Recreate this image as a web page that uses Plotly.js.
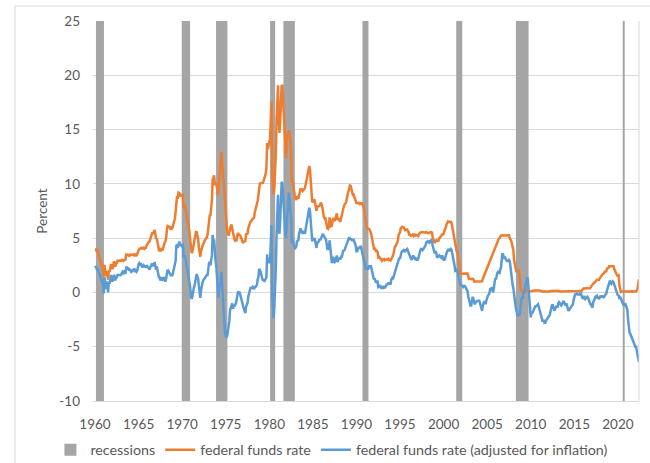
<!DOCTYPE html>
<html>
<head>
<meta charset="utf-8">
<script src="https://cdn.plot.ly/plotly-3.0.1.min.js"></script>
<style>
  html, body { margin: 0; padding: 0; background: #ffffff; }
  #chart { width: 650px; height: 463px; }
</style>
</head>
<body>
<div id="chart"></div>
<script>
// ---------------- DATA ----------------
// Monthly, starting January 1960
const startYear = 1960;

// Effective federal funds rate (%)
const fedFunds = [
  3.99, 3.97, 3.84, 3.92, 3.85, 3.32, 3.23, 2.98, 2.60, 2.47, 2.44, 1.98,
  1.45, 2.54, 2.02, 1.49, 1.98, 1.73, 1.17, 2.00, 1.88, 2.26, 2.61, 2.33,
  2.15, 2.37, 2.85, 2.78, 2.36, 2.68, 2.71, 2.93, 2.90, 2.90, 2.94, 2.93,
  2.92, 3.00, 2.98, 2.90, 3.00, 2.99, 3.02, 3.49, 3.48, 3.50, 3.48, 3.38,
  3.48, 3.48, 3.43, 3.47, 3.50, 3.50, 3.42, 3.50, 3.45, 3.36, 3.52, 3.85,
  3.90, 3.98, 4.04, 4.09, 4.10, 4.04, 4.09, 4.12, 4.01, 4.08, 4.10, 4.32,
  4.42, 4.60, 4.65, 4.67, 4.90, 5.17, 5.30, 5.53, 5.40, 5.53, 5.76, 5.40,
  4.94, 5.00, 4.53, 4.05, 3.94, 3.98, 3.79, 3.90, 3.99, 3.88, 4.13, 4.51,
  4.61, 4.71, 5.05, 5.76, 6.11, 6.07, 6.02, 6.03, 5.78, 5.91, 5.82, 6.02,
  6.30, 6.61, 6.79, 7.41, 8.67, 8.90, 8.61, 9.19, 9.15, 9.00, 8.85, 8.97,
  8.98, 8.98, 7.76, 8.10, 7.95, 7.61, 7.21, 6.61, 6.29, 6.20, 5.60, 4.90,
  4.14, 3.72, 3.71, 4.16, 4.63, 4.91, 5.31, 5.56, 5.55, 5.20, 4.91, 4.14,
  3.50, 3.29, 3.83, 4.17, 4.27, 4.46, 4.55, 4.80, 4.87, 5.04, 5.06, 5.33,
  5.94, 6.58, 7.09, 7.12, 7.84, 8.49, 10.40, 10.50, 10.78, 10.01, 10.03, 9.95,
  9.65, 8.97, 9.35, 10.51, 11.31, 11.93, 12.92, 12.01, 11.34, 10.06, 9.45, 8.53,
  7.13, 6.24, 5.54, 5.49, 5.22, 5.55, 6.10, 6.14, 6.24, 5.82, 5.22, 5.20,
  4.87, 4.77, 4.84, 4.82, 5.29, 5.48, 5.31, 5.29, 5.25, 5.02, 4.95, 4.65,
  4.61, 4.68, 4.69, 4.73, 5.35, 5.39, 5.42, 5.90, 6.14, 6.47, 6.51, 6.56,
  6.70, 6.78, 6.79, 6.89, 7.36, 7.60, 7.81, 8.04, 8.45, 8.96, 9.76, 10.03,
  10.07, 10.06, 10.09, 10.01, 10.24, 10.29, 10.47, 10.94, 11.43, 13.77, 13.18, 13.78,
  13.82, 14.13, 17.19, 17.61, 10.98, 9.47, 9.03, 9.61, 10.87, 12.81, 15.85, 18.90,
  19.08, 15.93, 14.70, 15.72, 18.52, 19.10, 19.04, 17.82, 15.87, 15.08, 13.31, 12.37,
  13.22, 14.78, 14.68, 14.94, 14.45, 14.15, 12.59, 10.12, 10.31, 9.71, 9.20, 8.95,
  8.68, 8.51, 8.77, 8.80, 8.63, 8.98, 9.37, 9.56, 9.45, 9.48, 9.34, 9.47,
  9.56, 9.59, 9.91, 10.29, 10.32, 11.06, 11.23, 11.64, 11.30, 9.99, 9.43, 8.38,
  8.35, 8.50, 8.58, 8.27, 7.97, 7.53, 7.88, 7.90, 7.92, 7.99, 8.05, 8.27,
  8.14, 7.86, 7.48, 6.99, 6.85, 6.92, 6.56, 6.17, 5.89, 5.85, 6.04, 6.91,
  6.43, 6.10, 6.13, 6.37, 6.85, 6.73, 6.58, 6.73, 7.22, 7.29, 6.69, 6.77,
  6.83, 6.58, 6.58, 6.87, 7.09, 7.51, 7.75, 8.01, 8.19, 8.30, 8.35, 8.76,
  9.12, 9.36, 9.85, 9.84, 9.81, 9.53, 9.24, 8.99, 9.02, 8.84, 8.55, 8.45,
  8.23, 8.24, 8.28, 8.26, 8.18, 8.29, 8.15, 8.13, 8.20, 8.11, 7.81, 7.31,
  6.91, 6.25, 6.12, 5.91, 5.78, 5.90, 5.82, 5.66, 5.45, 5.21, 4.81, 4.43,
  4.03, 4.06, 3.98, 3.73, 3.82, 3.76, 3.25, 3.30, 3.22, 3.10, 3.09, 2.92,
  3.02, 3.03, 3.07, 2.96, 3.00, 3.04, 3.06, 3.03, 3.09, 2.99, 3.02, 2.96,
  3.05, 3.25, 3.34, 3.56, 4.01, 4.25, 4.26, 4.47, 4.73, 4.76, 5.29, 5.45,
  5.53, 5.92, 5.98, 6.05, 6.01, 6.00, 5.85, 5.74, 5.80, 5.76, 5.80, 5.60,
  5.56, 5.22, 5.31, 5.22, 5.24, 5.27, 5.40, 5.22, 5.30, 5.24, 5.31, 5.29,
  5.25, 5.19, 5.39, 5.51, 5.50, 5.56, 5.52, 5.54, 5.54, 5.50, 5.52, 5.50,
  5.56, 5.51, 5.49, 5.45, 5.49, 5.56, 5.54, 5.55, 5.51, 5.07, 4.83, 4.68,
  4.63, 4.76, 4.81, 4.74, 4.74, 4.76, 4.99, 5.07, 5.22, 5.20, 5.42, 5.30,
  5.45, 5.73, 5.85, 6.02, 6.27, 6.53, 6.54, 6.50, 6.52, 6.51, 6.51, 6.40,
  5.98, 5.49, 5.31, 4.80, 4.21, 3.97, 3.77, 3.65, 3.07, 2.49, 2.09, 1.82,
  1.73, 1.74, 1.73, 1.75, 1.75, 1.75, 1.73, 1.74, 1.75, 1.75, 1.34, 1.24,
  1.24, 1.26, 1.25, 1.26, 1.26, 1.22, 1.01, 1.03, 1.01, 1.01, 1.00, 0.98,
  1.00, 1.01, 1.00, 1.00, 1.00, 1.03, 1.26, 1.43, 1.61, 1.76, 1.93, 2.16,
  2.28, 2.50, 2.63, 2.79, 3.00, 3.04, 3.26, 3.50, 3.62, 3.78, 4.00, 4.16,
  4.29, 4.49, 4.59, 4.79, 4.94, 4.99, 5.24, 5.25, 5.25, 5.25, 5.25, 5.24,
  5.25, 5.26, 5.26, 5.25, 5.25, 5.25, 5.26, 5.02, 4.94, 4.76, 4.49, 4.24,
  3.94, 2.98, 2.61, 2.28, 1.98, 2.00, 2.01, 2.00, 1.81, 0.97, 0.39, 0.16,
  0.15, 0.22, 0.18, 0.15, 0.18, 0.21, 0.16, 0.16, 0.15, 0.12, 0.12, 0.12,
  0.11, 0.13, 0.16, 0.20, 0.20, 0.18, 0.18, 0.19, 0.19, 0.19, 0.19, 0.18,
  0.17, 0.16, 0.14, 0.10, 0.09, 0.09, 0.07, 0.10, 0.08, 0.07, 0.08, 0.07,
  0.08, 0.10, 0.13, 0.14, 0.16, 0.16, 0.16, 0.13, 0.14, 0.16, 0.16, 0.16,
  0.14, 0.15, 0.14, 0.15, 0.11, 0.09, 0.09, 0.08, 0.08, 0.09, 0.08, 0.09,
  0.07, 0.07, 0.08, 0.09, 0.09, 0.10, 0.09, 0.09, 0.09, 0.09, 0.09, 0.12,
  0.11, 0.11, 0.11, 0.12, 0.12, 0.13, 0.13, 0.14, 0.14, 0.12, 0.12, 0.24,
  0.34, 0.38, 0.36, 0.37, 0.37, 0.38, 0.39, 0.40, 0.40, 0.40, 0.41, 0.54,
  0.65, 0.66, 0.79, 0.90, 0.91, 1.04, 1.15, 1.16, 1.15, 1.15, 1.16, 1.30,
  1.41, 1.42, 1.51, 1.69, 1.70, 1.82, 1.91, 1.91, 1.95, 2.19, 2.20, 2.27,
  2.40, 2.40, 2.41, 2.42, 2.39, 2.38, 2.40, 2.13, 2.04, 1.83, 1.55, 1.55,
  1.55, 1.58, 0.65, 0.05, 0.05, 0.08, 0.09, 0.10, 0.09, 0.09, 0.09, 0.09,
  0.09, 0.08, 0.07, 0.07, 0.06, 0.08, 0.10, 0.09, 0.08, 0.08, 0.08, 0.08,
  0.08, 0.08, 0.20, 0.33, 0.77, 1.21
];

// Federal funds rate adjusted for inflation (%)
const realRate = [
  2.3, 2.4, 2.2, 2.1, 2.2, 1.7, 1.7, 1.6, 1.3, 1.0, 1.0, 0.7,
  -0.1, 1.4, 1.0, 0.3, 1.0, 0.7, 0.0, 1.0, 0.8, 1.3, 1.6, 1.2,
  1.0, 1.2, 1.6, 1.5, 1.1, 1.4, 1.4, 1.6, 1.6, 1.6, 1.6, 1.6,
  1.6, 1.8, 1.9, 1.8, 1.9, 1.8, 1.8, 2.3, 2.3, 2.2, 2.2, 2.0,
  2.1, 2.0, 1.9, 2.0, 2.1, 2.1, 2.0, 2.1, 2.0, 1.9, 2.0, 2.5,
  2.6, 2.7, 2.6, 2.7, 2.5, 2.3, 2.4, 2.5, 2.4, 2.4, 2.3, 2.5,
  2.4, 2.3, 2.2, 2.1, 2.3, 2.6, 2.6, 2.6, 2.4, 2.4, 2.8, 2.4,
  2.1, 2.4, 2.0, 1.7, 1.4, 1.4, 1.1, 1.3, 1.3, 1.2, 1.3, 1.4,
  1.1, 1.0, 1.3, 1.9, 2.1, 2.0, 1.8, 1.8, 1.6, 1.6, 1.5, 1.7,
  2.0, 2.3, 2.3, 2.9, 4.3, 4.4, 4.1, 4.7, 4.7, 4.4, 4.3, 4.3,
  4.4, 4.4, 3.2, 3.4, 3.4, 3.0, 2.6, 2.1, 1.8, 1.7, 1.2, 0.5,
  -0.3, -0.6, -0.4, 0.2, 0.4, 0.6, 1.1, 1.5, 1.7, 1.4, 1.3, 0.6,
  -0.3, -0.5, 0.2, 0.8, 0.9, 1.1, 1.2, 1.4, 1.5, 1.5, 1.6, 1.6,
  2.3, 2.7, 2.8, 2.5, 3.0, 3.4, 5.3, 4.6, 4.9, 3.5, 2.9, 2.4,
  1.4, -0.1, -0.5, 0.4, 0.7, 1.0, 1.9, 0.6, -0.5, -2.0, -2.8, -3.7,
  -4.0, -4.1, -4.0, -3.6, -3.4, -2.6, -1.6, -1.3, -1.0, -1.0, -1.5, -1.2,
  -1.3, -1.2, -1.0, -0.7, -0.1, 0.1, 0.0, 0.0, -0.2, -0.4, -0.6, -1.0,
  -1.3, -1.5, -1.7, -1.9, -1.3, -1.1, -1.0, -0.4, 0.0, 0.3, 0.4, 0.4,
  0.4, 0.5, 0.4, 0.3, 0.5, 0.5, 0.6, 0.7, 1.2, 1.4, 2.1, 2.1,
  1.9, 1.6, 1.3, 1.1, 1.2, 1.0, 1.1, 1.2, 1.4, 3.5, 2.7, 3.1,
  2.7, 2.8, 5.7, 6.2, -0.4, -2.0, -2.4, -1.2, 0.3, 2.2, 5.3, 8.4,
  9.0, 6.0, 5.4, 6.6, 9.5, 10.2, 10.0, 9.1, 7.3, 6.7, 5.3, 5.0,
  6.2, 8.1, 8.4, 9.2, 8.4, 8.2, 6.9, 4.5, 4.9, 4.5, 4.1, 4.0,
  4.1, 4.2, 4.7, 4.8, 4.8, 5.4, 5.8, 5.9, 5.7, 5.6, 5.4, 5.6,
  5.6, 5.4, 5.8, 6.3, 6.4, 7.1, 7.3, 7.8, 7.5, 6.3, 5.8, 4.8,
  4.8, 5.0, 5.0, 4.8, 4.5, 4.1, 4.6, 4.6, 4.7, 4.9, 4.8, 5.0,
  5.1, 5.4, 5.4, 5.2, 5.0, 5.0, 4.9, 4.4, 4.0, 4.0, 4.0, 4.8,
  3.9, 3.1, 2.8, 2.8, 3.3, 2.9, 2.8, 2.9, 3.3, 3.4, 2.8, 3.0,
  3.2, 3.1, 3.1, 3.3, 3.3, 3.6, 3.9, 3.8, 4.0, 4.1, 4.2, 4.5,
  4.6, 4.8, 5.1, 4.9, 4.9, 4.9, 4.8, 4.8, 4.9, 4.7, 4.5, 4.3,
  3.8, 3.8, 4.0, 4.2, 4.1, 4.1, 4.3, 4.0, 3.7, 3.4, 3.0, 2.5,
  2.4, 2.1, 2.3, 2.2, 2.1, 2.4, 2.4, 2.4, 2.4, 2.1, 1.7, 1.3,
  1.2, 1.3, 1.1, 0.9, 1.0, 1.0, 0.5, 0.6, 0.6, 0.5, 0.6, 0.4,
  0.4, 0.4, 0.6, 0.4, 0.5, 0.6, 0.8, 0.7, 0.9, 0.8, 0.8, 0.8,
  1.2, 1.3, 1.2, 1.5, 1.8, 2.1, 2.1, 2.3, 2.5, 2.6, 3.0, 3.2,
  3.1, 3.6, 3.7, 3.8, 3.8, 3.9, 3.9, 3.8, 3.9, 3.9, 4.0, 3.8,
  3.6, 3.3, 3.3, 3.1, 3.0, 3.2, 3.4, 3.2, 3.2, 3.0, 3.1, 3.0,
  3.0, 3.1, 3.5, 3.7, 3.9, 4.0, 3.9, 3.9, 4.0, 4.1, 4.2, 4.3,
  4.6, 4.6, 4.7, 4.6, 4.6, 4.8, 4.7, 4.8, 4.7, 4.3, 3.9, 3.8,
  3.6, 3.8, 3.6, 3.2, 3.3, 3.3, 3.4, 3.3, 3.2, 3.2, 3.4, 3.0,
  3.0, 3.0, 3.1, 3.4, 3.7, 3.8, 3.9, 4.0, 3.8, 3.9, 4.0, 3.9,
  3.6, 3.3, 3.1, 2.5, 2.0, 2.1, 2.1, 2.0, 1.5, 1.3, 1.0, 0.8,
  0.7, 0.7, 0.5, 0.5, 0.6, 0.6, 0.5, 0.4, 0.3, 0.1, -0.4, -0.7,
  -1.0, -1.2, -1.2, -0.5, -0.4, -0.6, -0.9, -1.1, -0.9, -0.8, -0.8, -0.8,
  -0.8, -0.7, -1.0, -1.3, -1.6, -1.7, -1.2, -1.0, -0.8, -1.0, -1.0, -0.7,
  -0.4, -0.3, -0.2, -0.1, 0.3, 0.4, 0.4, 0.4, 0.0, 0.3, 0.9, 1.3,
  1.2, 1.6, 1.8, 1.9, 1.8, 1.8, 2.1, 2.3, 3.0, 3.6, 3.5, 3.1,
  3.3, 3.1, 2.9, 2.9, 2.9, 2.9, 3.0, 2.9, 2.4, 1.8, 0.9, 0.7,
  0.4, -0.3, -0.9, -1.2, -1.6, -2.0, -2.2, -2.0, -2.0, -2.1, -1.2, -0.6,
  -0.5, -0.5, 0.0, 0.0, 0.4, 0.7, 1.2, 1.4, 1.2, 0.2, -1.2, -2.0,
  -2.3, -1.9, -1.9, -1.8, -1.6, -1.3, -1.3, -1.3, -1.2, -1.2, -1.1, -1.3,
  -1.6, -1.8, -2.2, -2.5, -2.6, -2.6, -2.6, -2.8, -2.8, -2.6, -2.5, -2.4,
  -2.4, -2.3, -2.1, -1.8, -1.4, -1.2, -1.1, -1.4, -1.6, -1.6, -1.4, -1.3,
  -1.3, -1.4, -1.0, -0.9, -1.0, -1.1, -1.2, -1.1, -0.9, -0.8, -0.9, -1.1,
  -1.2, -1.0, -1.2, -1.5, -1.7, -1.6, -1.5, -1.4, -1.4, -1.3, -1.1, -0.7,
  -0.2, -0.2, -0.2, -0.1, -0.1, -0.2, -0.2, -0.2, -0.1, -0.1, -0.3, -0.4,
  -0.6, -0.4, -0.4, -0.6, -0.5, -0.5, -0.4, -0.5, -0.8, -1.0, -1.1, -1.1,
  -1.3, -1.4, -0.9, -0.8, -0.6, -0.4, -0.3, -0.3, -0.5, -0.5, -0.6, -0.4,
  -0.3, -0.4, -0.4, -0.3, -0.5, -0.4, -0.3, -0.2, -0.1, 0.2, 0.4, 0.6,
  1.0, 1.1, 0.9, 0.8, 0.9, 1.0, 0.9, 0.7, 0.6, 0.4, 0.1, 0.0,
  -0.3, -0.2, -0.6, -0.4, -0.5, -0.7, -0.9, -1.0, -1.2, -1.1, -1.0, -1.2,
  -1.4, -1.6, -2.5, -3.5, -3.7, -3.8, -4.0, -4.1, -4.2, -4.5, -4.7, -4.9,
  -5.0, -5.0, -5.4, -5.8, -6.1, -6.4
];

// Recession periods (decimal years)
const recStart = [1960.11, 1969.95, 1973.89, 1980.09, 1981.62, 1990.69, 2001.45, 2008.30, 2020.55];
const recEnd   = [1961.03, 1970.91, 1975.19, 1980.67, 1982.93, 1991.38, 2002.14, 2009.75, 2020.78];

// Axis ticks
const xTickVals = [1960, 1965, 1970, 1975, 1980, 1985, 1990, 1995, 2000, 2005, 2010, 2015, 2020];
const xTickText = ['1960', '1965', '1970', '1975', '1980', '1985', '1990', '1995', '2000', '2005', '2010', '2015', '2020'];
const yTickVals = [-10, -5, 0, 5, 10, 15, 20, 25];
const yTickText = ['-10', '-5', '0', '5', '10', '15', '20', '25'];

// ---------------- BUILD ----------------
const dates = fedFunds.map((_, i) => startYear + i / 12);
const yMin = -10, yMax = 25;
const xRange = [1959.77, 2022.42];

const FONT = 'Lato, "Open Sans", "Liberation Sans", sans-serif';
const TXT = '#595959';

const traces = [
  {
    type: 'bar',
    name: 'recessions',
    x: recStart.map((s, i) => (s + recEnd[i]) / 2),
    width: recStart.map((s, i) => recEnd[i] - s),
    y: recStart.map(() => yMax - yMin),
    base: yMin,
    marker: { color: '#a5a5a5', line: { width: 0 } },
    hoverinfo: 'skip'
  },
  {
    type: 'scatter',
    mode: 'lines',
    name: 'federal funds rate',
    x: dates,
    y: fedFunds,
    line: { color: '#ed7d31', width: 2.5 },
    hoverinfo: 'skip'
  },
  {
    type: 'scatter',
    mode: 'lines',
    name: 'federal funds rate (adjusted for inflation)',
    x: dates,
    y: realRate,
    line: { color: '#5b9bd5', width: 2.5 },
    hoverinfo: 'skip'
  }
];

const layout = {
  width: 650,
  height: 463,
  margin: { l: 93, r: 11, t: 21, b: 62, pad: 0, autoexpand: false },
  paper_bgcolor: '#ffffff',
  plot_bgcolor: '#ffffff',
  font: { family: FONT, size: 13, color: TXT },
  showlegend: true,
  hovermode: false,
  barmode: 'overlay',
  xaxis: {
    range: xRange,
    tickmode: 'array',
    tickvals: xTickVals,
    ticktext: xTickText,
    showgrid: false,
    zeroline: false,
    showline: true,
    linecolor: '#d9d9d9',
    linewidth: 1,
    ticks: '',
    ticklabelstandoff: 11,
    tickfont: { family: FONT, size: 13.5, color: TXT },
    automargin: false,
    fixedrange: true
  },
  xaxis2: {
    overlaying: 'x',
    anchor: 'free',
    position: (0 - yMin) / (yMax - yMin),
    side: 'bottom',
    range: xRange,
    tickmode: 'array',
    tickvals: xTickVals,
    ticks: 'inside',
    ticklen: 5,
    tickwidth: 1,
    tickcolor: '#d9d9d9',
    showticklabels: false,
    showgrid: false,
    zeroline: false,
    showline: false,
    automargin: false
  },
  yaxis: {
    range: [yMin, yMax],
    tickmode: 'array',
    tickvals: yTickVals,
    ticktext: yTickText,
    showgrid: true,
    gridcolor: '#d9d9d9',
    gridwidth: 1,
    zeroline: true,
    zerolinecolor: '#d9d9d9',
    zerolinewidth: 1,
    showline: false,
    ticks: '',
    ticklabelstandoff: 12,
    tickfont: { family: FONT, size: 13.5, color: TXT },
    title: { text: 'Percent', font: { family: FONT, size: 13.5, color: TXT }, standoff: 8 },
    automargin: false,
    fixedrange: true
  },
  legend: {
    orientation: 'h',
    x: -0.078,
    xanchor: 'left',
    y: -0.129,
    yanchor: 'middle',
    font: { family: FONT, size: 14.3, color: TXT },
    bgcolor: 'rgba(0,0,0,0)',
    itemwidth: 30,
    traceorder: 'normal'
  },
  shapes: [
    { type: 'line', xref: 'paper', yref: 'paper', x0: 1, x1: 1, y0: 0, y1: 1,
      line: { color: '#d9d9d9', width: 1 } },
    { type: 'rect', xref: 'paper', yref: 'paper',
      x0: (15 - 93) / 546, x1: 1.2, y0: -0.3, y1: (401 - 6) / 380,
      line: { color: '#d9d9d9', width: 1 }, fillcolor: 'rgba(0,0,0,0)', layer: 'below' }
  ]
};

Plotly.newPlot('chart', traces, layout, { displayModeBar: false, staticPlot: true });
</script>
</body>
</html>
